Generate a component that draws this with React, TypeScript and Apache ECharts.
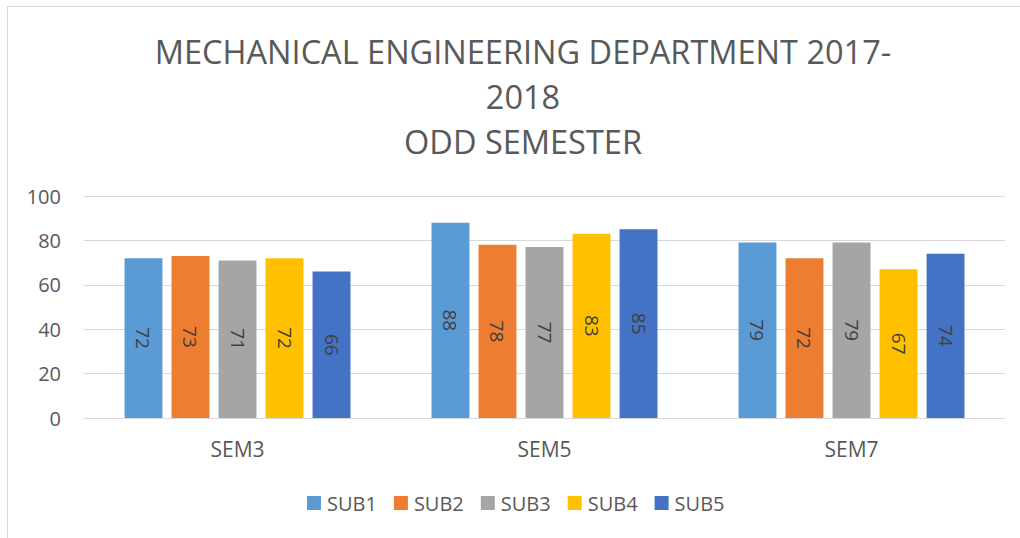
import React, { useEffect, useRef } from "react";
import * as echarts from "echarts";

const categories = ["SEM3", "SEM5", "SEM7"];
const seriesNames = ["SUB1", "SUB2", "SUB3", "SUB4", "SUB5"];
const sub1 = [72, 88, 79];
const sub2 = [73, 78, 72];
const sub3 = [71, 77, 79];
const sub4 = [72, 83, 67];
const sub5 = [66, 85, 74];
const colors = ["#5b9bd5", "#ed7d31", "#a5a5a5", "#ffc000", "#4472c4"];
const yTicks = [0, 20, 40, 60, 80, 100];

const FONT = "'Open Sans', sans-serif";

export default function App() {
  const ref = useRef<HTMLDivElement>(null);
  useEffect(() => {
    if (!ref.current) return;
    const chart = echarts.init(ref.current, null, { renderer: "svg" });
    const data = [sub1, sub2, sub3, sub4, sub5];
    chart.setOption({
      animation: false,
      backgroundColor: "#ffffff",
      title: {
        text: "MECHANICAL ENGINEERING DEPARTMENT 2017-\n2018\nODD SEMESTER",
        left: 518,
        textAlign: "center",
        top: 24,
        textStyle: {
          fontFamily: FONT,
          fontSize: 32.5,
          fontWeight: "normal",
          color: "#595959",
          lineHeight: 45,
        },
      },
      graphic: [
        {
          type: "rect",
          shape: { x: 7.5, y: 6.5, width: 1100, height: 700 },
          style: { fill: "none", stroke: "#d9d9d9", lineWidth: 1 },
          silent: true,
        },
      ],
      legend: {
        data: seriesNames,
        bottom: 20,
        left: 302,
        itemWidth: 14,
        itemHeight: 14,
        itemGap: 17,
        icon: "rect",
        textStyle: { fontFamily: FONT, fontSize: 20, color: "#595959", padding: [0, 0, 0, 1] },
      },
      grid: { left: 84, right: 15, top: 196, bottom: 120, containLabel: false },
      xAxis: {
        type: "category",
        data: categories,
        axisLine: { lineStyle: { color: "#d9d9d9", width: 1 } },
        axisTick: { show: false },
        axisLabel: { fontFamily: FONT, fontSize: 21, color: "#595959", margin: 20 },
      },
      yAxis: {
        type: "value",
        min: yTicks[0],
        max: yTicks[yTicks.length - 1],
        interval: 20,
        axisLine: { show: false },
        axisTick: { show: false },
        splitLine: { lineStyle: { color: "#d9d9d9", width: 1 } },
        axisLabel: { fontFamily: FONT, fontSize: 20, color: "#595959", margin: 23 },
      },
      series: seriesNames.map((name, i) => ({
        name,
        type: "bar",
        data: data[i],
        barGap: "24%",
        barCategoryGap: "26.4%",
        itemStyle: { color: colors[i] },
        label: {
          show: true,
          position: "inside",
          rotate: -90,
          fontFamily: FONT,
          fontSize: 19,
          color: "#404040",
        },
      })),
    });
    return () => chart.dispose();
  }, []);
  return (
    <div
      ref={ref}
      style={{ position: "fixed", left: 0, top: 0, width: 1020, height: 538 }}
    />
  );
}
